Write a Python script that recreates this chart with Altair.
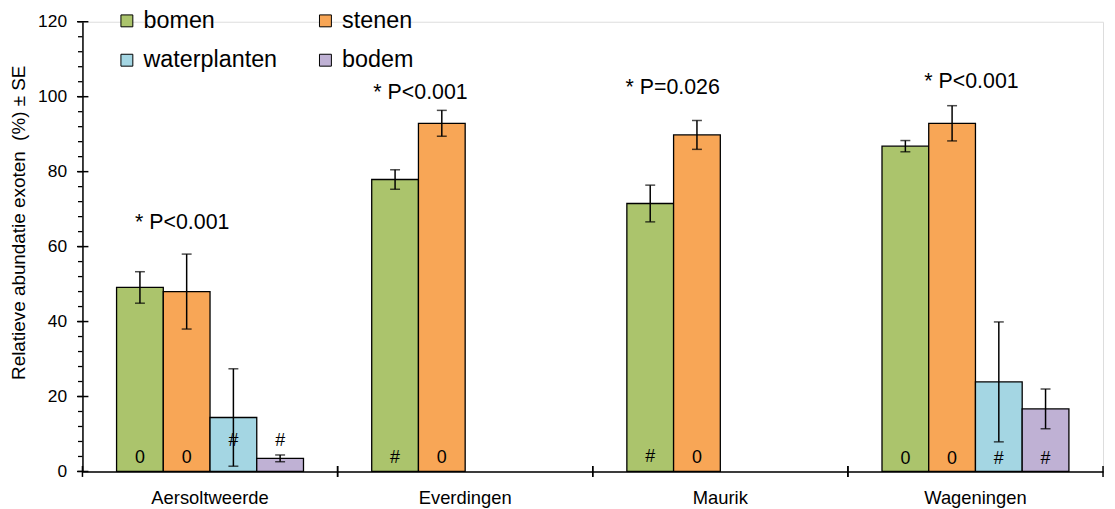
import altair as alt
import pandas as pd

# ---------------- data ----------------
sites = ["Aersoltweerde", "Everdingen", "Maurik", "Wageningen"]
types = ["bomen", "stenen", "waterplanten", "bodem"]
colors = ["#abc46c", "#f8a656", "#a4d6e3", "#bfb1d4"]

bar_site = ["Aersoltweerde", "Aersoltweerde", "Aersoltweerde", "Aersoltweerde",
            "Everdingen", "Everdingen",
            "Maurik", "Maurik",
            "Wageningen", "Wageningen", "Wageningen", "Wageningen"]
bar_type = ["bomen", "stenen", "waterplanten", "bodem",
            "bomen", "stenen",
            "bomen", "stenen",
            "bomen", "stenen", "waterplanten", "bodem"]
bar_value = [49.1, 48.0, 14.4, 3.5, 77.9, 92.9, 71.5, 89.8, 86.8, 92.9, 23.9, 16.7]
bar_se = [4.2, 10.0, 13.0, 0.9, 2.6, 3.45, 4.9, 3.85, 1.5, 4.7, 16.0, 5.3]
bar_mark = ["0", "0", "#", "#", "#", "0", "#", "0", "0", "0", "#", "#"]
mark_y = [3.5, 3.5, 8.0, 8.0, 3.6, 3.6, 3.9, 3.7, 3.4, 3.4, 3.3, 3.3]

ann_site = ["Aersoltweerde", "Everdingen", "Maurik", "Wageningen"]
ann_text = ["* P<0.001", "* P<0.001", "* P=0.026", "* P<0.001"]
ann_y = [66.4, 101.0, 102.3, 104.0]
ann_dx = [-28, -45, -48, -4]

major_ticks = [0, 20, 40, 60, 80, 100, 120]
minor_ticks = [v for v in range(0, 121, 4)]

y_title = "Relatieve abundatie exoten\u00a0\u00a0(%) ± SE"

# ---------------- frames ----------------
df = pd.DataFrame({
    "site": bar_site, "type": bar_type, "value": bar_value, "se": bar_se,
    "mark": bar_mark, "mark_y": mark_y,
})
df["lo"] = df["value"] - df["se"]
df["hi"] = df["value"] + df["se"]

ann = pd.DataFrame({"site": ann_site, "text": ann_text, "y": ann_y, "dx": ann_dx})
major_df = pd.DataFrame({"v": major_ticks})
minor_df = pd.DataFrame({"v": minor_ticks})
site_df = pd.DataFrame({"site": sites})

W, H = 1028, 453
FONT = "Liberation Sans"

yscale = alt.Scale(domain=[0, 120], nice=False, zero=True)
xscale = alt.Scale(domain=sites, paddingInner=0, paddingOuter=0)
xoff = alt.XOffset("type:N", sort=types,
                   scale=alt.Scale(domain=types, paddingInner=0, paddingOuter=0.73))

x_axis = alt.Axis(title=None, ticks=False, labelFontSize=18.5, labelColor="black",
                  labelPadding=17, labelAngle=0, domainColor="black", domainWidth=1.5,
                  grid=False, labelFont=FONT)
y_axis = alt.Axis(values=major_ticks, ticks=False, labelFontSize=17.5,
                  labelColor="black", labelPadding=16, grid=False,
                  domainColor="black", domainWidth=1.5, labelFont=FONT,
                  title=y_title,
                  titleFontSize=19, titleFontWeight="normal", titleColor="black",
                  titleFont=FONT, titleAngle=270, titleX=-64, titleY=202,
                  titleBaseline="middle", titleAlign="center")


def X(**kw):
    return alt.X("site:N", sort=sites, scale=xscale, axis=x_axis, **kw)


def Y(field):
    return alt.Y(field, scale=yscale, axis=y_axis)


bars = alt.Chart(df).mark_bar(stroke="black", strokeWidth=1.3).encode(
    x=X(), xOffset=xoff, y=Y("value:Q"),
    fill=alt.Fill("type:N", sort=types, scale=alt.Scale(domain=types, range=colors),
                  legend=alt.Legend(title=None, orient="none", legendX=33, legendY=-13,
                                    columns=2, direction="horizontal",
                                    symbolType="square", symbolSize=144,
                                    symbolStrokeColor="black", symbolStrokeWidth=1,
                                    symbolOpacity=1, labelFontSize=23.5, labelColor="black",
                                    labelFont=FONT, labelOffset=5, columnPadding=36,
                                    rowPadding=15, padding=0)),
)

err = alt.Chart(df).mark_rule(color="black", strokeWidth=1.5).encode(
    x=X(), xOffset=xoff, y=Y("lo:Q"), y2="hi:Q",
)
cap_lo = alt.Chart(df).mark_tick(color="black", size=10, thickness=1.5).encode(
    x=X(), xOffset=xoff, y=Y("lo:Q"),
)
cap_hi = alt.Chart(df).mark_tick(color="black", size=10, thickness=1.5).encode(
    x=X(), xOffset=xoff, y=Y("hi:Q"),
)

labels = alt.Chart(df).mark_text(fontSize=18, color="black", baseline="middle",
                                 font=FONT).encode(
    x=X(), xOffset=xoff, y=Y("mark_y:Q"), text="mark:N",
)

ann_layers = []
for i in range(len(ann_site)):
    ann_layers.append(
        alt.Chart(ann).transform_filter(alt.datum.site == ann_site[i])
        .mark_text(fontSize=21.5, color="black", baseline="middle", align="center",
                   font=FONT, dx=ann_dx[i])
        .encode(x=X(), y=Y("y:Q"), text="text:N")
    )

# y-axis ticks (minor outside, major crossing the axis)
minor_rules = alt.Chart(minor_df).mark_rule(color="black", strokeWidth=1.3).encode(
    y=Y("v:Q"), x=alt.value(-4.5), x2=alt.value(0),
)
major_rules = alt.Chart(major_df).mark_rule(color="black", strokeWidth=1.5).encode(
    y=Y("v:Q"), x=alt.value(-5.5), x2=alt.value(6),
)

# x-axis ticks at group boundaries, crossing the axis
xt0 = alt.Chart(site_df).mark_rule(color="black", strokeWidth=1.5).encode(
    x=X(bandPosition=0), y=alt.value(H - 5.5), y2=alt.value(H + 5.5),
)
xt1 = alt.Chart(site_df).mark_rule(color="black", strokeWidth=1.5).encode(
    x=X(bandPosition=1), y=alt.value(H - 5.5), y2=alt.value(H + 5.5),
)

chart = alt.layer(bars, err, cap_lo, cap_hi, labels, *ann_layers,
                  minor_rules, major_rules, xt0, xt1).properties(
    width=W, height=H,
    autosize=alt.AutoSizeParams(type="none"),
    padding={"left": 75, "top": 12, "right": 4, "bottom": 40},
).configure_view(stroke=None).configure(font=FONT)

chart.save("out.html", embed_options={"renderer": "svg", "actions": False})
